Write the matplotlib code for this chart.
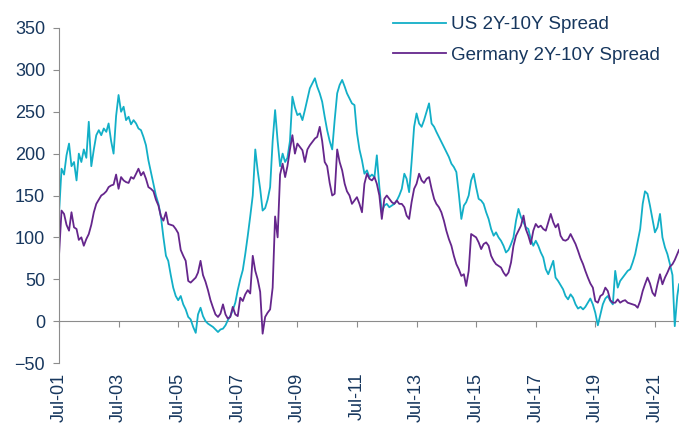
import pandas as pd
import matplotlib
matplotlib.use("Agg")
import matplotlib.pyplot as plt
import matplotlib.dates as mdates

plt.rcParams['font.family'] = ['Liberation Sans', 'DejaVu Sans']

# monthly readings, Jul-01 .. Apr-22, plus the last print late Apr-22
dates = list(pd.date_range("2001-07-01", "2022-04-01", freq="MS")) + [pd.Timestamp("2022-04-22")]

us_spread = [128, 182, 175, 198, 212, 185,
             190, 168, 200, 190, 205, 195, 238, 185, 205, 222, 228, 222,
             230, 226, 236, 215, 200, 245, 270, 250, 256, 240, 244, 235,
             240, 236, 230, 228, 220, 210, 192, 178, 164, 150, 140, 125,
             100, 78, 72, 55, 40, 30, 25, 30, 20, 14, 5, 2,
             -7, -14, 8, 16, 6, 0, -3, -5, -7, -10, -13, -10,
             -9, -5, 1, 6, 13, 22, 37, 50, 61, 80, 102, 125,
             150, 205, 180, 158, 132, 135, 145, 160, 215, 252, 215, 185,
             200, 190, 195, 215, 268, 255, 246, 248, 240, 252, 265, 278,
             284, 290, 280, 272, 262, 244, 228, 215, 205, 240, 272, 282,
             288, 280, 272, 266, 260, 258, 225, 205, 192, 176, 180, 172,
             175, 172, 198, 160, 130, 138, 140, 136, 138, 140, 144, 150,
             158, 176, 170, 154, 190, 232, 248, 236, 232, 240, 250, 260,
             236, 232, 226, 220, 214, 208, 202, 196, 188, 184, 178, 152,
             122, 138, 142, 150, 168, 176, 160, 146, 144, 140, 130, 122,
             110, 102, 106, 100, 96, 90, 82, 85, 92, 100, 120, 134,
             124, 118, 112, 110, 98, 90, 96, 90, 82, 76, 62, 56,
             64, 72, 52, 48, 43, 38, 30, 26, 32, 28, 20, 15,
             17, 14, 17, 22, 27, 20, 10, -5, 8, 20, 27, 30,
             24, 20, 60, 40, 48, 52, 56, 60, 62, 70, 80, 95,
             110, 140, 155, 152, 138, 122, 106, 112, 128, 100, 88, 80,
             68, 55, -6, 30, 44]

de_spread = [78, 132, 128, 115, 108, 130,
             112, 110, 97, 100, 90, 98, 104, 115, 130, 140, 145, 150,
             152, 155, 160, 162, 163, 175, 158, 172, 168, 166, 165, 172,
             170, 176, 182, 174, 178, 170, 160, 158, 155, 145, 138, 125,
             120, 130, 116, 115, 114, 110, 105, 85, 78, 72, 48, 46,
             49, 52, 58, 72, 55, 47, 37, 25, 16, 8, 5, 9,
             20, 8, 3, 5, 17, 8, 6, 28, 24, 32, 37, 33,
             78, 60, 50, 35, -15, 5, 10, 14, 40, 125, 100, 175,
             188, 172, 185, 205, 222, 200, 212, 208, 204, 190, 205, 210,
             214, 218, 220, 232, 215, 190, 185, 165, 150, 152, 205, 190,
             180, 164, 155, 150, 140, 144, 148, 140, 130, 164, 176, 170,
             168, 172, 164, 150, 122, 146, 150, 146, 142, 140, 144, 140,
             140, 136, 126, 122, 142, 158, 164, 176, 168, 165, 170, 172,
             158, 146, 140, 136, 130, 120, 108, 98, 90, 78, 68, 62,
             54, 56, 42, 60, 104, 102, 100, 94, 86, 92, 94, 90,
             78, 72, 68, 66, 64, 58, 54, 58, 70, 90, 102, 108,
             114, 126, 110, 102, 92, 108, 116, 112, 114, 110, 108, 118,
             128, 118, 112, 116, 102, 97, 96, 98, 104, 98, 92, 84,
             75, 68, 60, 52, 45, 40, 24, 22, 30, 32, 40, 36,
             25, 22, 22, 26, 22, 24, 25, 22, 21, 20, 19, 16,
             24, 36, 44, 52, 45, 34, 30, 44, 56, 44, 52, 58,
             65, 68, 73, 80, 85]

tick_dates = [pd.Timestamp(f"{y}-07-01") for y in range(2001, 2022, 2)]

us_color = "#12AFC7"
de_color = "#65268C"
txt_color = "#17375E"
axis_grey = "#8C8C8C"

fig = plt.figure(figsize=(6.79, 4.24), dpi=100)
ax = fig.add_axes([59/679, 1 - 363/424, 1 - 59/679, (363 - 28)/424])

ax.plot(dates, us_spread, color=us_color, lw=1.3, label="US 2Y-10Y Spread")
ax.plot(dates, de_spread, color=de_color, lw=1.3, label="Germany 2Y-10Y Spread")

ax.set_xlim(pd.Timestamp("2001-07-01"), pd.Timestamp("2022-04-22"))
ax.set_ylim(-50, 350)
ax.set_yticks(range(-50, 351, 50))

for s in ["top", "right", "bottom"]:
    ax.spines[s].set_visible(False)
ax.spines["left"].set_color(axis_grey)
ax.tick_params(axis="y", colors=axis_grey, labelcolor=txt_color, labelsize=13,
               length=4, pad=6, direction="out")

# date labels sit below the plot, the tick marks sit on the zero line
ax.set_xticks(tick_dates)
ax.set_xticklabels([d.strftime("%b-%y") for d in tick_dates], rotation=90)
ax.tick_params(axis="x", length=0, pad=7, labelsize=13, labelcolor=txt_color)

zero_ax = ax.secondary_xaxis(50/400)
zero_ax.set_xticks(mdates.date2num(tick_dates))
zero_ax.set_xticklabels([])
zero_ax.spines["bottom"].set_color(axis_grey)
zero_ax.tick_params(axis="x", colors=axis_grey, length=4, direction="out")

leg = fig.legend(loc="upper left", bbox_to_anchor=(393/679, 1 - 16/424),
                 frameon=False, fontsize=13.5, handlelength=2.8, handletextpad=0.3,
                 labelspacing=0.72, borderpad=0, borderaxespad=0)
for t in leg.get_texts():
    t.set_color(txt_color)

fig.savefig("out.png", dpi=100)
